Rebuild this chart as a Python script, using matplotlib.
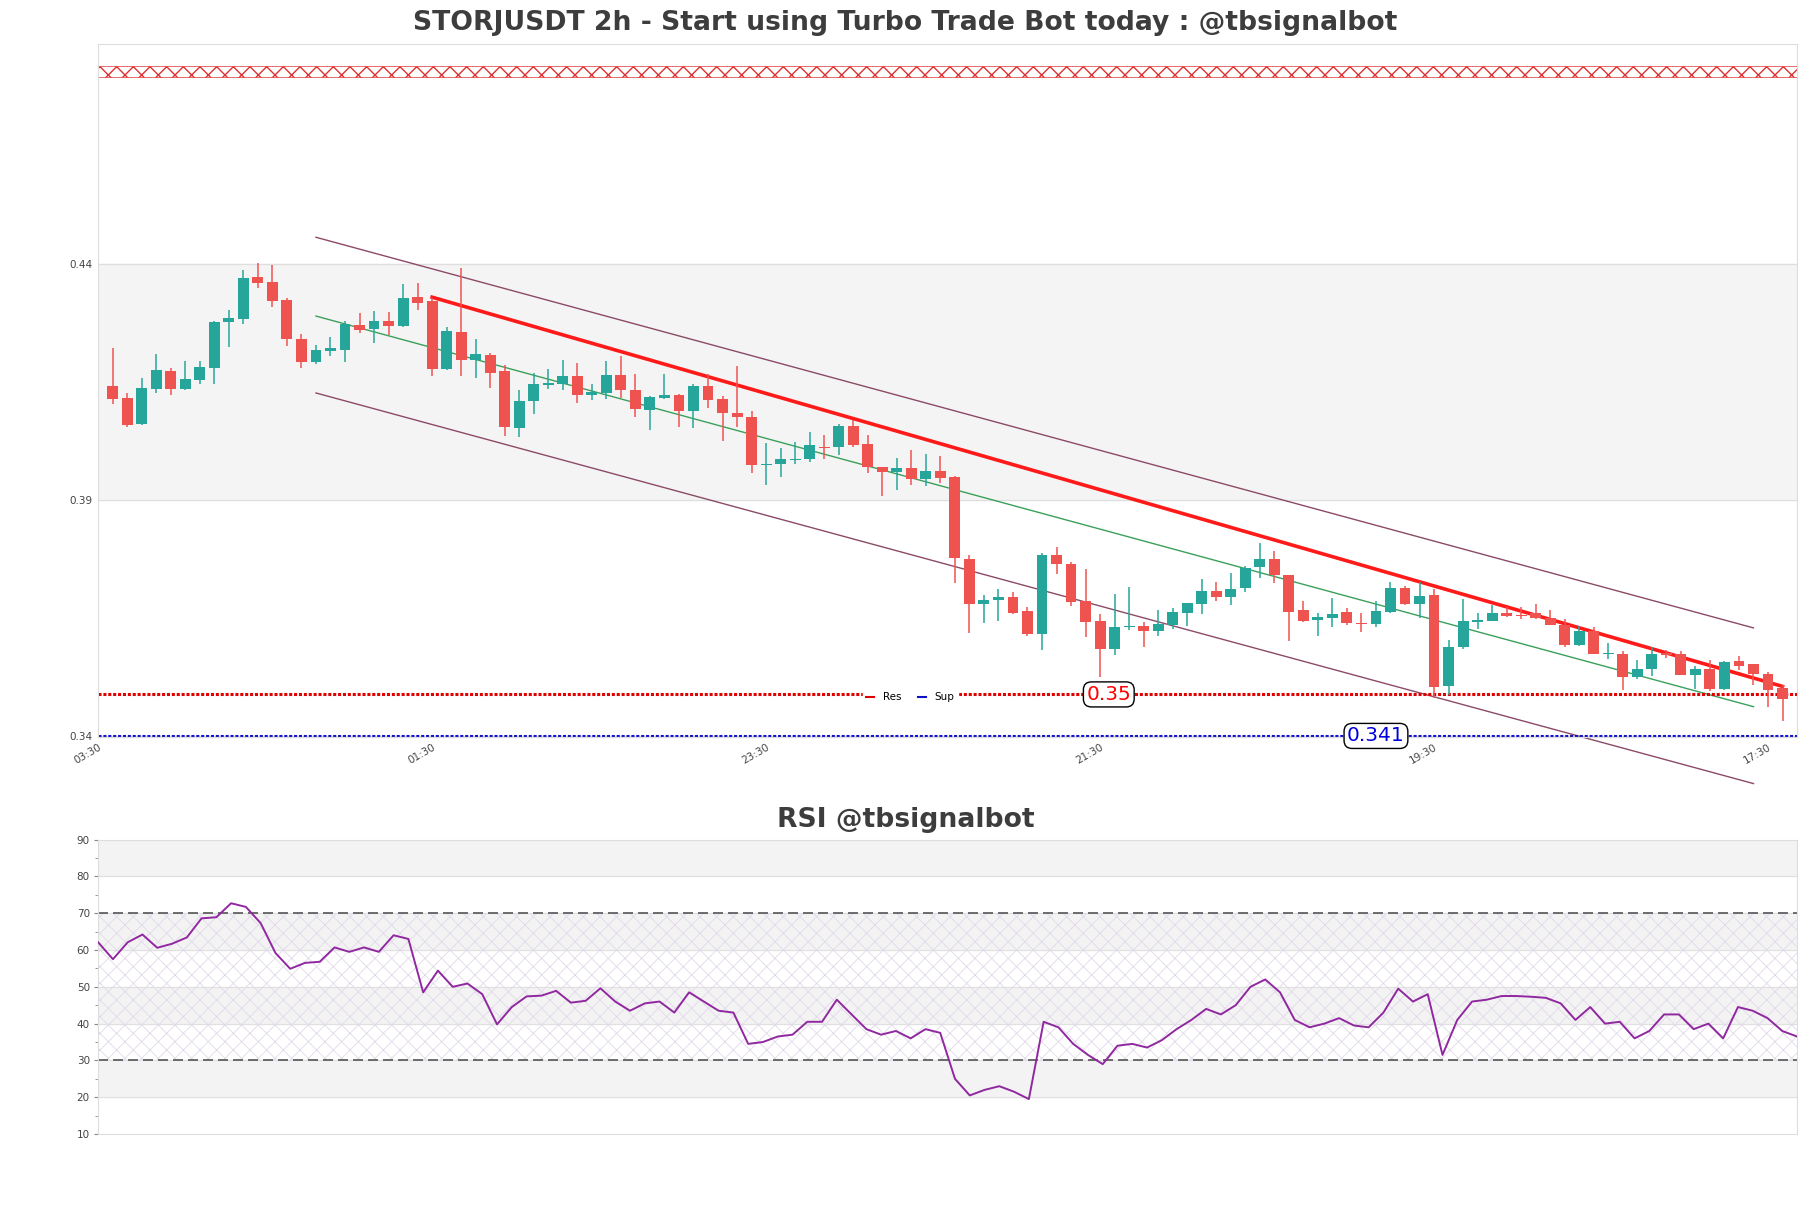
import numpy as np
import matplotlib.pyplot as plt
from matplotlib.lines import Line2D

# --- candles (2h) ---
opens = [0.4141, 0.4116, 0.4061, 0.4136, 0.4173, 0.4136, 0.4155, 0.4180, 0.4278, 0.4283,
         0.4372, 0.4362, 0.4324, 0.4241, 0.4193, 0.4217, 0.4218, 0.4271, 0.4262, 0.4279,
         0.4269, 0.4330, 0.4322, 0.4178, 0.4256, 0.4197, 0.4208, 0.4173, 0.4053, 0.4110,
         0.4144, 0.4145, 0.4162, 0.4123, 0.4127, 0.4166, 0.4134, 0.4090, 0.4116, 0.4122,
         0.4089, 0.4141, 0.4114, 0.4085, 0.4075, 0.3974, 0.3976, 0.3984, 0.3986, 0.4013,
         0.4012, 0.4058, 0.4018, 0.3969, 0.3959, 0.3967, 0.3945, 0.3961, 0.3948, 0.3776,
         0.3679, 0.3688, 0.3695, 0.3664, 0.3617, 0.3783, 0.3764, 0.3687, 0.3643, 0.3585,
         0.3630, 0.3634, 0.3623, 0.3635, 0.3660, 0.3679, 0.3708, 0.3695, 0.3713, 0.3758,
         0.3774, 0.3742, 0.3666, 0.3645, 0.3650, 0.3662, 0.3640, 0.3637, 0.3662, 0.3713,
         0.3679, 0.3698, 0.3505, 0.3588, 0.3642, 0.3643, 0.3660, 0.3657, 0.3660, 0.3650,
         0.3635, 0.3592, 0.3622, 0.3574, 0.3574, 0.3524, 0.3541, 0.3575, 0.3573, 0.3529,
         0.3541, 0.3500, 0.3558, 0.3552, 0.3532, 0.3502]
highs = [0.4222, 0.4126, 0.4158, 0.4209, 0.4179, 0.4194, 0.4194, 0.4279, 0.4302, 0.4387,
         0.4402, 0.4399, 0.4328, 0.4251, 0.4228, 0.4245, 0.4279, 0.4296, 0.4300, 0.4299,
         0.4358, 0.4360, 0.4328, 0.4266, 0.4391, 0.4241, 0.4211, 0.4186, 0.4133, 0.4170,
         0.4177, 0.4196, 0.4191, 0.4145, 0.4194, 0.4206, 0.4168, 0.4121, 0.4167, 0.4124,
         0.4145, 0.4167, 0.4121, 0.4184, 0.4089, 0.4020, 0.4011, 0.4022, 0.4045, 0.4037,
         0.4061, 0.4069, 0.4037, 0.3971, 0.3990, 0.4007, 0.3998, 0.3993, 0.3950, 0.3784,
         0.3698, 0.3712, 0.3706, 0.3674, 0.3788, 0.3800, 0.3769, 0.3754, 0.3659, 0.3700,
         0.3716, 0.3642, 0.3667, 0.3671, 0.3682, 0.3732, 0.3726, 0.3746, 0.3761, 0.3808,
         0.3793, 0.3742, 0.3685, 0.3661, 0.3693, 0.3672, 0.3661, 0.3687, 0.3727, 0.3718,
         0.3726, 0.3712, 0.3604, 0.3691, 0.3660, 0.3677, 0.3674, 0.3674, 0.3679, 0.3666,
         0.3647, 0.3633, 0.3631, 0.3597, 0.3579, 0.3562, 0.3588, 0.3583, 0.3580, 0.3549,
         0.3562, 0.3558, 0.3569, 0.3552, 0.3535, 0.3509]
lows = [0.4103, 0.4055, 0.4059, 0.4127, 0.4123, 0.4134, 0.4146, 0.4145, 0.4224, 0.4273,
        0.4349, 0.4309, 0.4227, 0.4180, 0.4189, 0.4206, 0.4193, 0.4254, 0.4233, 0.4249,
        0.4266, 0.4302, 0.4162, 0.4176, 0.4162, 0.4159, 0.4138, 0.4036, 0.4034, 0.4082,
        0.4136, 0.4134, 0.4106, 0.4112, 0.4114, 0.4116, 0.4076, 0.4049, 0.4114, 0.4055,
        0.4053, 0.4096, 0.4025, 0.4055, 0.3957, 0.3932, 0.3948, 0.3976, 0.3981, 0.3988,
        0.3995, 0.4013, 0.3958, 0.3909, 0.3921, 0.3932, 0.3930, 0.3937, 0.3725, 0.3619,
        0.3640, 0.3643, 0.3658, 0.3612, 0.3582, 0.3743, 0.3675, 0.3610, 0.3525, 0.3572,
        0.3624, 0.3589, 0.3612, 0.3627, 0.3633, 0.3658, 0.3685, 0.3677, 0.3705, 0.3735,
        0.3725, 0.3601, 0.3641, 0.3612, 0.3631, 0.3635, 0.3620, 0.3631, 0.3661, 0.3677,
        0.3650, 0.3481, 0.3486, 0.3585, 0.3626, 0.3643, 0.3652, 0.3647, 0.3647, 0.3635,
        0.3588, 0.3590, 0.3574, 0.3564, 0.3498, 0.3521, 0.3528, 0.3566, 0.3529, 0.3500,
        0.3495, 0.3498, 0.3539, 0.3507, 0.3461, 0.3431]
closes = [0.4114, 0.4059, 0.4137, 0.4175, 0.4136, 0.4156, 0.4181, 0.4278, 0.4285, 0.4370,
          0.4360, 0.4322, 0.4241, 0.4193, 0.4218, 0.4222, 0.4273, 0.4260, 0.4279, 0.4269,
          0.4328, 0.4318, 0.4178, 0.4258, 0.4197, 0.4209, 0.4169, 0.4055, 0.4109, 0.4145,
          0.4148, 0.4164, 0.4123, 0.4129, 0.4166, 0.4134, 0.4092, 0.4119, 0.4122, 0.4089,
          0.4141, 0.4112, 0.4084, 0.4076, 0.3974, 0.3977, 0.3986, 0.3988, 0.4016, 0.4010,
          0.4058, 0.4017, 0.3971, 0.3960, 0.3967, 0.3945, 0.3961, 0.3947, 0.3777, 0.3679,
          0.3689, 0.3695, 0.3660, 0.3617, 0.3783, 0.3764, 0.3684, 0.3642, 0.3585, 0.3630,
          0.3634, 0.3622, 0.3637, 0.3662, 0.3681, 0.3708, 0.3694, 0.3712, 0.3756, 0.3774,
          0.3741, 0.3662, 0.3643, 0.3653, 0.3659, 0.3640, 0.3637, 0.3665, 0.3713, 0.3679,
          0.3696, 0.3503, 0.3589, 0.3643, 0.3645, 0.3660, 0.3655, 0.3654, 0.3649, 0.3635,
          0.3592, 0.3622, 0.3574, 0.3576, 0.3524, 0.3541, 0.3573, 0.3571, 0.3529, 0.3541,
          0.3500, 0.3557, 0.3549, 0.3531, 0.3498, 0.3479]

rsi = [62.1, 57.5, 62.1, 64.2, 60.6, 61.7, 63.4, 68.6, 68.9, 72.7,
       71.7, 67.3, 59.2, 54.9, 56.5, 56.8, 60.7, 59.5, 60.7, 59.5,
       64.0, 63.0, 48.5, 54.4, 50.0, 50.9, 48.0, 39.8, 44.5, 47.4,
       47.6, 48.9, 45.7, 46.2, 49.6, 46.0, 43.5, 45.5, 46.0, 43.0,
       48.5, 46.0, 43.5, 43.0, 34.5, 35.0, 36.5, 37.0, 40.5, 40.5,
       46.5, 42.5, 38.5, 37.0, 38.0, 36.0, 38.5, 37.5, 25.0, 20.5,
       22.0, 23.0, 21.5, 19.5, 40.5, 39.0, 34.5, 31.5, 29.0, 34.0,
       34.5, 33.5, 35.5, 38.5, 41.0, 44.0, 42.5, 45.0, 50.0, 52.0,
       48.5, 41.0, 39.0, 40.0, 41.5, 39.5, 39.0, 43.0, 49.5, 46.0,
       48.0, 31.5, 41.0, 46.0, 46.5, 47.5, 47.5, 47.3, 47.0, 45.5,
       41.0, 44.5, 40.0, 40.5, 36.0, 38.0, 42.5, 42.5, 38.5, 40.0,
       36.0, 44.5, 43.5, 41.5, 38.0, 36.5]

tick_pos = [-1, 22, 45, 68, 91, 114]
tick_labels = ['03:30', '01:30', '23:30', '21:30', '19:30', '17:30']

res_level, sup_level = 0.3488, 0.3400
res_text, sup_text = '0.35', '0.341'
zone_top = (0.4796, 0.4820)

# trend lines: (x0, x1), (y0, y1)
res_trend = ([22, 115], [0.4330, 0.3505])
chan_mid = ([14, 113], [0.4290, 0.3462])
chan_up = ([14, 113], [0.4457, 0.3629])
chan_lo = ([14, 113], [0.4127, 0.3299])

GREEN, RED = '#26a69a', '#ef5350'
TXT = '#3d3d3d'

fig = plt.figure(figsize=(18.11, 12.08), dpi=100)
ax = fig.add_axes([0.0542, 0.390, 0.9381, 0.5737])
ax2 = fig.add_axes([0.0542, 0.0612, 0.9381, 0.2438])

# ---------- price panel ----------
ax.axhspan(0.39, 0.44, color='#f4f4f4', zorder=0)
for y in [0.34, 0.39, 0.44]:
    ax.axhline(y, color='#dedede', lw=0.9, zorder=0.5)
ax.axhspan(*zone_top, facecolor='none', edgecolor='#e03030', hatch='xx', lw=0.5, zorder=1)

x = np.arange(len(opens))
o, h, l, c = map(np.array, (opens, highs, lows, closes))
cols = np.where(c >= o, GREEN, RED)
ax.vlines(x, l, h, colors=cols, lw=1.1, zorder=3)
body = np.maximum(np.abs(c - o), 0.00025)
ax.bar(x, body, bottom=np.minimum(o, c), width=0.75, color=cols, zorder=3)

ax.plot(*chan_up, color='#8c4a68', lw=1, zorder=2, clip_on=False)
ax.plot(*chan_lo, color='#8c4a68', lw=1, zorder=2, clip_on=False)
ax.plot(*chan_mid, color='#3aa05a', lw=1, zorder=2)
ax.plot(*res_trend, color='#ff1a1a', lw=2.6, zorder=2.5)

ax.axhline(res_level, color='#e00000', lw=2.2, ls=(0, (1, 0.6)), zorder=2)
ax.axhline(sup_level, color='#1010cc', lw=2.2, ls=(0, (1, 0.6)), zorder=2, clip_on=False)

box = dict(boxstyle='round,pad=0.15,rounding_size=0.4', fc='white', ec='black', lw=1)
ax.text(68.6, res_level, res_text, color='red', fontsize=14.5, ha='center', va='center',
        bbox=box, zorder=5)
ax.text(87.0, sup_level, sup_text, color='#0000dd', fontsize=14.5, ha='center', va='center',
        bbox=box, zorder=5, clip_on=False)

handles = [Line2D([], [], color='#e00000', lw=1.5), Line2D([], [], color='#1010cc', lw=1.5)]
leg = ax.legend(handles, ['Res', 'Sup'], ncol=2, loc='lower center',
                bbox_to_anchor=(0.478, 0.038), fontsize=7.5, frameon=True,
                framealpha=1, edgecolor='white', handlelength=0.8, borderpad=0.3,
                columnspacing=1.6, handletextpad=0.8)
leg.set_zorder(6)

ax.set_xlim(-1, 116)
ax.set_ylim(0.3398, 0.4867)
ax.set_yticks([0.34, 0.39, 0.44])
ax.set_yticklabels(['0.34', '0.39', '0.44'])
ax.set_xticks(tick_pos)
ax.set_xticklabels(tick_labels, rotation=30, ha='right', rotation_mode='anchor')
ax.tick_params(axis='both', length=0, labelsize=7.5, labelcolor='#444444', pad=4)
for s in ax.spines.values():
    s.set_color('#dddddd')
fig.text(0.5, 0.981, 'STORJUSDT 2h - Start using Turbo Trade Bot today : @tbsignalbot',
         fontsize=19.2, fontweight='bold', color=TXT, ha='center', va='center')

# ---------- RSI panel ----------
for lo_, hi_ in [(20, 30), (40, 50), (60, 70), (80, 90)]:
    ax2.axhspan(lo_, hi_, color='#f3f3f3', zorder=0)
for y in range(20, 90, 10):
    ax2.axhline(y, color='#e0e0e0', lw=0.8, zorder=0.5)
plt.rcParams['hatch.linewidth'] = 0.6
ax2.axhspan(30, 70, facecolor='none', edgecolor='#e2d8ea', hatch='xx', lw=0, zorder=1)
ax2.axhline(70, color='#555555', lw=1.2, ls=(0, (6, 3)), zorder=2)
ax2.axhline(30, color='#555555', lw=1.2, ls=(0, (6, 3)), zorder=2)
ax2.plot(np.arange(len(rsi)), rsi, color='#9028a0', lw=1.4, zorder=3)

ax2.set_xlim(0, len(rsi) - 1)
ax2.set_ylim(10, 90)
ax2.set_yticks(range(10, 91, 10))
ax2.set_yticks(range(15, 90, 10), minor=True)
ax2.set_xticks([])
ax2.tick_params(axis='y', which='major', length=3, color='#888888', labelsize=7.5,
                labelcolor='#444444', pad=3)
ax2.tick_params(axis='y', which='minor', length=2, color='#888888')
for s in ax2.spines.values():
    s.set_color('#dddddd')
fig.text(0.5, 0.321, 'RSI @tbsignalbot', fontsize=19.2, fontweight='bold', color=TXT,
         ha='center', va='center')

fig.savefig('out.png', dpi=100, facecolor='white')
